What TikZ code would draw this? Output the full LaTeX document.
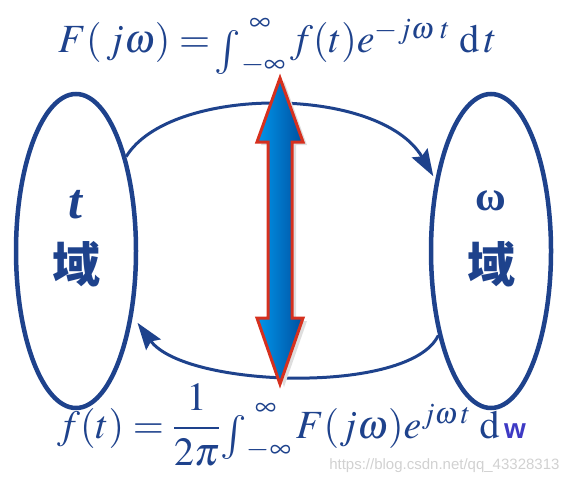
\documentclass[tikz,border=0pt]{standalone}
\usepackage{amsmath}
\usepackage{graphicx}
\usepackage{mathptmx}
\usepackage{fontspec}
\setmainfont{Liberation Serif}
\setsansfont{Liberation Sans}
\newfontfamily\cjk{Noto Sans CJK SC}
\usetikzlibrary{arrows.meta, shapes.geometric}
\definecolor{dblue}{RGB}{30,66,140}
\definecolor{arrowred}{RGB}{214,48,30}
\definecolor{lblue}{RGB}{0,150,235}
\definecolor{mblue}{RGB}{0,80,160}
\definecolor{wblue}{RGB}{62,58,196}
\newcommand{\tallint}{\!\mathop{\vcenter{\hbox{\raisebox{-9pt}[\height][\depth]{\scalebox{1.1}{$\int$}}}}}\nolimits}
\newcommand{\uplim}{\mkern5mu\raisebox{2pt}{$\scriptstyle\infty$}}
\newcommand{\lowlim}{\raisebox{-6pt}{$\scriptstyle-\infty$}}

\begin{document}
\begin{tikzpicture}[x=1pt,y=-1pt]
    \tikzstyle{domellipse}=[draw=dblue,line width=4.5pt,ellipse,minimum width=120pt,minimum height=314pt]
    \tikzstyle{symlabel}=[text=dblue,font=\fontsize{50}{50}\selectfont]
    \tikzstyle{cjklabel}=[text=dblue,font=\cjk\bfseries\fontsize{48}{48}\selectfont]
    \tikzstyle{formula}=[text=dblue,anchor=base west,inner sep=0pt,font=\fontsize{40}{48}\selectfont]
    \tikzstyle{edge}=[draw=dblue,line width=3pt,-{Stealth[length=27pt,width=18pt,inset=4pt]}]
    \tikzstyle{bigarrow}=[draw=arrowred,line width=3pt,left color=lblue,right color=mblue]

    \useasboundingbox (0,0) rectangle (569,484);

    \node[domellipse] (tdom) at (76,251) {};
    \node[domellipse] (wdom) at (491,251) {};

    \node[symlabel] (tsym) at (76,205) {\textbf{\textit{t}}};
    \node[cjklabel] (tcjk) at (76,264) {域};
    \node[symlabel,font=\fontsize{42}{42}\selectfont] (wsym) at (491,201) {\textbf{ω}};
    \node[cjklabel] (wcjk) at (491,264) {域};

    \path[edge,shorten >=4pt] (tdom.62) .. controls (170,85) and (380,85) .. (wdom.128);
    \path[edge,shorten >=8pt] (wdom.238) .. controls (410,395) and (185,388) .. (tdom.-49);

    % the double arrow in the middle
    \fill[black!13] (284,81) -- (307,145) -- (296,145) -- (296,321) -- (307,321) -- (284,387) -- (261,321) -- (272,321) -- (272,145) -- (261,145) -- cycle;
    \path[bigarrow] (280,78) -- (303,142) -- (292,142) -- (292,318) -- (303,318) -- (280,384) -- (257,318) -- (268,318) -- (268,142) -- (257,142) -- cycle;

    \node[formula] (fwd) at (58,53) {$F(\,j\omega)=\tallint_{\lowlim}^{\uplim} f(t)e^{-j\omega\;t}\;\mathrm{d}\,t$};
    \node[formula] (inv) at (57,438) {$f(t)=\dfrac{1}{2\pi}\tallint_{\lowlim}^{\uplim}F(j\omega)e^{j\omega\,t}\;\mathrm{d}\,${\sffamily\bfseries\fontsize{28}{28}\selectfont\color{wblue}w}};

    \node[anchor=east,text=black!18,font=\sffamily\fontsize{15}{15}\selectfont] (mark) at (563,466) {https://blog.csdn.net/qq\_43328313};
\end{tikzpicture}
\end{document}
